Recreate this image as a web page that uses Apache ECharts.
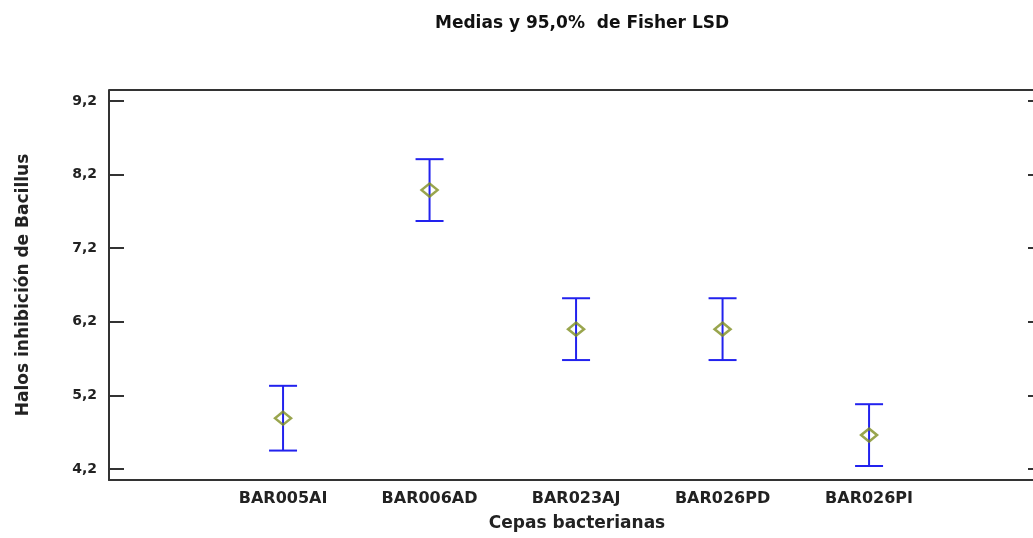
<!DOCTYPE html>
<html>
<head>
<meta charset="utf-8">
<script src="https://cdn.jsdelivr.net/npm/echarts@6/dist/echarts.min.js"></script>
<style>
html,body{margin:0;padding:0;background:#fff;}
#chart{width:1033px;height:538px;}
</style>
</head>
<body>
<div id="chart"></div>
<script>
const categories = ['BAR005AI', 'BAR006AD', 'BAR023AJ', 'BAR026PD', 'BAR026PI'];
const means = [4.89, 7.99, 6.10, 6.10, 4.66];
const lower = [4.45, 7.57, 5.68, 5.68, 4.24];
const upper = [5.33, 8.41, 6.52, 6.52, 5.08];
const yTicks = [4.2, 5.2, 6.2, 7.2, 8.2, 9.2];

const font = 'DejaVu Sans, Liberation Sans, Arial, sans-serif';
const chart = echarts.init(document.getElementById('chart'));

const barData = categories.map((c, i) => [i, lower[i], upper[i]]);
const meanData = categories.map((c, i) => [i, means[i]]);
const fmt = v => String(Math.round(v * 10) / 10).replace('.', ',');

chart.setOption({
  animation: false,
  backgroundColor: '#ffffff',
  title: {
    text: 'Medias y 95,0%  de Fisher LSD',
    left: 430,
    top: 10,
    textStyle: { fontFamily: font, fontWeight: 'bold', fontSize: 17, color: '#111' }
  },
  grid: { left: 109, top: 90, right: 0, height: 390, show: false },
  xAxis: {
    type: 'value',
    min: -1.188,
    max: 5.119,
    name: 'Cepas bacterianas',
    nameLocation: 'middle',
    nameGap: 35,
    nameTextStyle: { fontFamily: font, fontWeight: 'bold', fontSize: 17, color: '#222', padding: [0, 0, 0, 12] },
    axisLine: { show: true, onZero: false, lineStyle: { color: '#333', width: 2 } },
    axisTick: { show: false },
    splitLine: { show: false },
    axisLabel: {
      customValues: [0, 1, 2, 3, 4],
      formatter: v => categories[Math.round(v)] || '',
      fontFamily: font, fontWeight: 'bold', fontSize: 16, color: '#222', margin: 11
    }
  },
  yAxis: [{
    type: 'value',
    min: 4.05,
    max: 9.35,
    position: 'left',
    name: 'Halos inhibición de Bacillus',
    nameLocation: 'middle',
    nameGap: 77,
    nameRotate: 90,
    nameTextStyle: { fontFamily: font, fontWeight: 'bold', fontSize: 17, color: '#222' },
    axisLine: { show: true, onZero: false, lineStyle: { color: '#333', width: 2 } },
    axisTick: { show: true, inside: true, length: 15, customValues: yTicks, lineStyle: { color: '#333', width: 2 } },
    axisLabel: { customValues: yTicks, formatter: fmt, fontFamily: font, fontWeight: 'bold', fontSize: 14, color: '#222', margin: 12 },
    splitLine: { show: false }
  }, {
    type: 'value',
    min: 4.05,
    max: 9.35,
    position: 'right',
    offset: 10,
    axisLine: { show: true, onZero: false, lineStyle: { color: '#333', width: 2 } },
    axisTick: { show: true, inside: true, length: 15, customValues: yTicks, lineStyle: { color: '#333', width: 2 } },
    axisLabel: { show: false },
    splitLine: { show: false }
  }],
  graphic: [{
    type: 'line',
    shape: { x1: 109, y1: 90, x2: 1043, y2: 90 },
    style: { stroke: '#333', lineWidth: 2 }
  }],
  series: [{
    type: 'custom',
    data: barData,
    renderItem: (params, api) => {
      const x = api.value(0);
      const lo = api.coord([x, api.value(1)]);
      const hi = api.coord([x, api.value(2)]);
      const hw = 14;
      const st = { stroke: '#2222ee', lineWidth: 2 };
      return {
        type: 'group',
        children: [
          { type: 'line', shape: { x1: lo[0], y1: lo[1], x2: hi[0], y2: hi[1] }, style: st },
          { type: 'line', shape: { x1: lo[0] - hw, y1: lo[1], x2: lo[0] + hw, y2: lo[1] }, style: st },
          { type: 'line', shape: { x1: hi[0] - hw, y1: hi[1], x2: hi[0] + hw, y2: hi[1] }, style: st }
        ]
      };
    },
    z: 2
  }, {
    type: 'scatter',
    data: meanData,
    symbol: 'diamond',
    symbolSize: [16, 13],
    itemStyle: { color: 'rgba(255,255,255,0)', borderColor: '#7f8f20', borderWidth: 2.5 },
    z: 3
  }]
});
</script>
</body>
</html>
